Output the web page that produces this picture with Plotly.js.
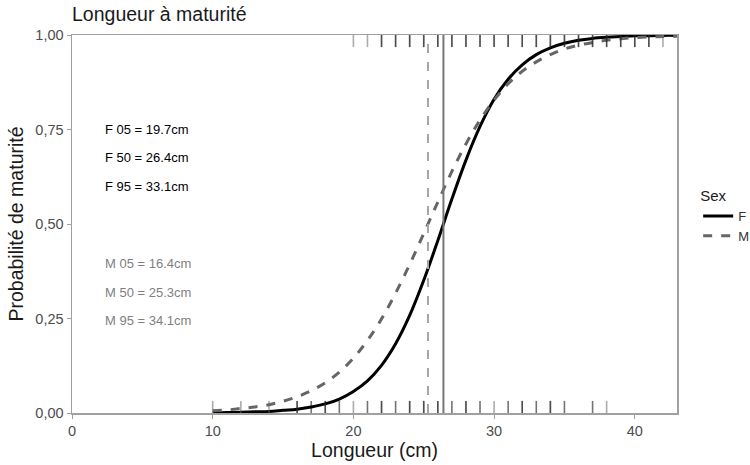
<!DOCTYPE html>
<html>
<head>
<meta charset="utf-8">
<script src="https://cdn.plot.ly/plotly-3.0.1.min.js"></script>
<style>html,body{margin:0;padding:0;background:#fff}</style>
</head>
<body>
<div id="chart" style="width:750px;height:465px"></div>
<script>
// Fitted curves, at 1 cm steps
const lengths = [10,11,12,13,14,15,16,17,18,19,20,21,22,23,24,25,26,27,28,29,30,31,32,33,34,35,36,37,38,39,40,41,42,43];
const probF = [0.001,0.001,0.002,0.003,0.004,0.007,0.010,0.016,0.024,0.037,0.057,0.085,0.126,0.183,0.258,0.351,0.456,0.566,0.669,0.758,0.830,0.883,0.921,0.948,0.966,0.978,0.986,0.991,0.994,0.996,0.998,0.998,0.999,0.999];
const probM = [0.006,0.008,0.012,0.016,0.022,0.031,0.043,0.059,0.080,0.108,0.145,0.192,0.249,0.317,0.393,0.475,0.558,0.639,0.712,0.775,0.828,0.871,0.904,0.929,0.948,0.963,0.973,0.980,0.986,0.990,0.993,0.995,0.996,0.997];

// L50 per sex
const sexes = ["F", "M"];
const l50 = [26.4, 25.3];

// Rug data (observed lengths): mature (top) and immature (bottom)
const matureF = [22,23,24,25,26,27,28,29,30,31,32,33,34,35,36,37,38,39,40,41];
const matureM = [20,21,22,23,24,25,26,27,28,29,30,31,32,33,34,35,36,37,38,39,40,41,42];
const immatureF = [16,17,18,19,21,22,23,24,25,26,27,28,29,31,32,33,34,35,37];
const immatureM = [10,12,14,16,18,20,22,24,25,26,28,30,32,34,38];

// Labels
const labelsF = ["F 05 = 19.7cm", "F 50 = 26.4cm", "F 95 = 33.1cm"];
const labelsM = ["M 05 = 16.4cm", "M 50 = 25.3cm", "M 95 = 34.1cm"];
const labelYF = [0.75, 0.675, 0.60];
const labelYM = [0.395, 0.32, 0.245];
const labelX = 2.2;

const xTicks = [0, 10, 20, 30, 40];
const yTicks = [0, 0.25, 0.5, 0.75, 1];

const colF = "#000000";
const colM = "#666666";

const traces = [
  {x: lengths, y: probF, name: "F", type: "scatter", mode: "lines",
   line: {color: colF, width: 3, shape: "spline"}},
  {x: lengths, y: probM, name: "M", type: "scatter", mode: "lines",
   line: {color: colM, width: 3, dash: "dash", shape: "spline"}}
];

const shapes = [];
function rug(arr, color, top) {
  arr.forEach(v => shapes.push({type: "line", xref: "x", yref: "y domain",
    x0: v, x1: v, y0: top ? 0.968 : 0, y1: top ? 1 : 0.032,
    line: {color: color, width: 1.6}, layer: "above"}));
}
rug(matureM, "rgba(102,102,102,0.55)", true);
rug(matureF, "rgba(0,0,0,0.55)", true);
rug(immatureM, "rgba(102,102,102,0.55)", false);
rug(immatureF, "rgba(0,0,0,0.55)", false);

shapes.push({type: "line", xref: "x", yref: "y domain", x0: l50[0], x1: l50[0], y0: 0, y1: 1,
  line: {color: "#777777", width: 2}});
shapes.push({type: "line", xref: "x", yref: "y domain", x0: l50[1], x1: l50[1], y0: 0, y1: 1,
  line: {color: "#a6a6a6", width: 2, dash: "dash"}});

const annotations = [];
labelsF.forEach((t, i) => annotations.push({x: labelX, y: labelYF[i], xref: "x", yref: "y",
  text: t, showarrow: false, xanchor: "left", yanchor: "middle",
  font: {family: "Liberation Sans, Arial, sans-serif", size: 13, color: "#000000"}}));
labelsM.forEach((t, i) => annotations.push({x: labelX, y: labelYM[i], xref: "x", yref: "y",
  text: t, showarrow: false, xanchor: "left", yanchor: "middle",
  font: {family: "Liberation Sans, Arial, sans-serif", size: 13, color: "#7f7f7f"}}));

const layout = {
  width: 750, height: 465,
  margin: {l: 72, r: 73, t: 35, b: 52, autoexpand: false},
  paper_bgcolor: "#ffffff", plot_bgcolor: "#ffffff",
  separators: ", ",
  font: {family: "Liberation Sans, Arial, sans-serif", color: "#333333"},
  title: {text: "Longueur à maturité", xref: "paper", x: 0, xanchor: "left", y: 1 - 14/465, yanchor: "middle",
    font: {size: 19.5, color: "#1a1a1a"}},
  xaxis: {range: [0, 43], tickvals: xTicks, ticktext: xTicks.map(String),
    showgrid: false, zeroline: false, showline: true, mirror: true, linecolor: "#a0a0a0", linewidth: 1.5,
    ticks: "outside", ticklen: 4, tickcolor: "#a0a0a0", tickwidth: 1,
    tickfont: {size: 14.5, color: "#4d4d4d"},
    title: {text: "Longueur (cm)", font: {size: 19.5, color: "#1a1a1a"}, standoff: 4}},
  yaxis: {range: [0, 1], tickvals: yTicks, tickformat: ".2f",
    showgrid: false, zeroline: false, showline: true, mirror: true, linecolor: "#a0a0a0", linewidth: 1.5,
    ticks: "outside", ticklen: 4, tickcolor: "#a0a0a0", tickwidth: 1,
    tickfont: {size: 14.5, color: "#4d4d4d"},
    title: {text: "Probabilité de maturité", font: {size: 19.5, color: "#1a1a1a"}, standoff: 6}},
  legend: {x: 1.035, xanchor: "left", y: 0.52, yanchor: "middle",
    title: {text: "Sex", font: {size: 15, color: "#1a1a1a"}},
    font: {size: 13, color: "#333333"}, bgcolor: "rgba(0,0,0,0)", tracegroupgap: 4},
  shapes: shapes,
  annotations: annotations,
  showlegend: true
};

Plotly.newPlot("chart", traces, layout, {displayModeBar: false, staticPlot: true});
</script>
</body>
</html>
